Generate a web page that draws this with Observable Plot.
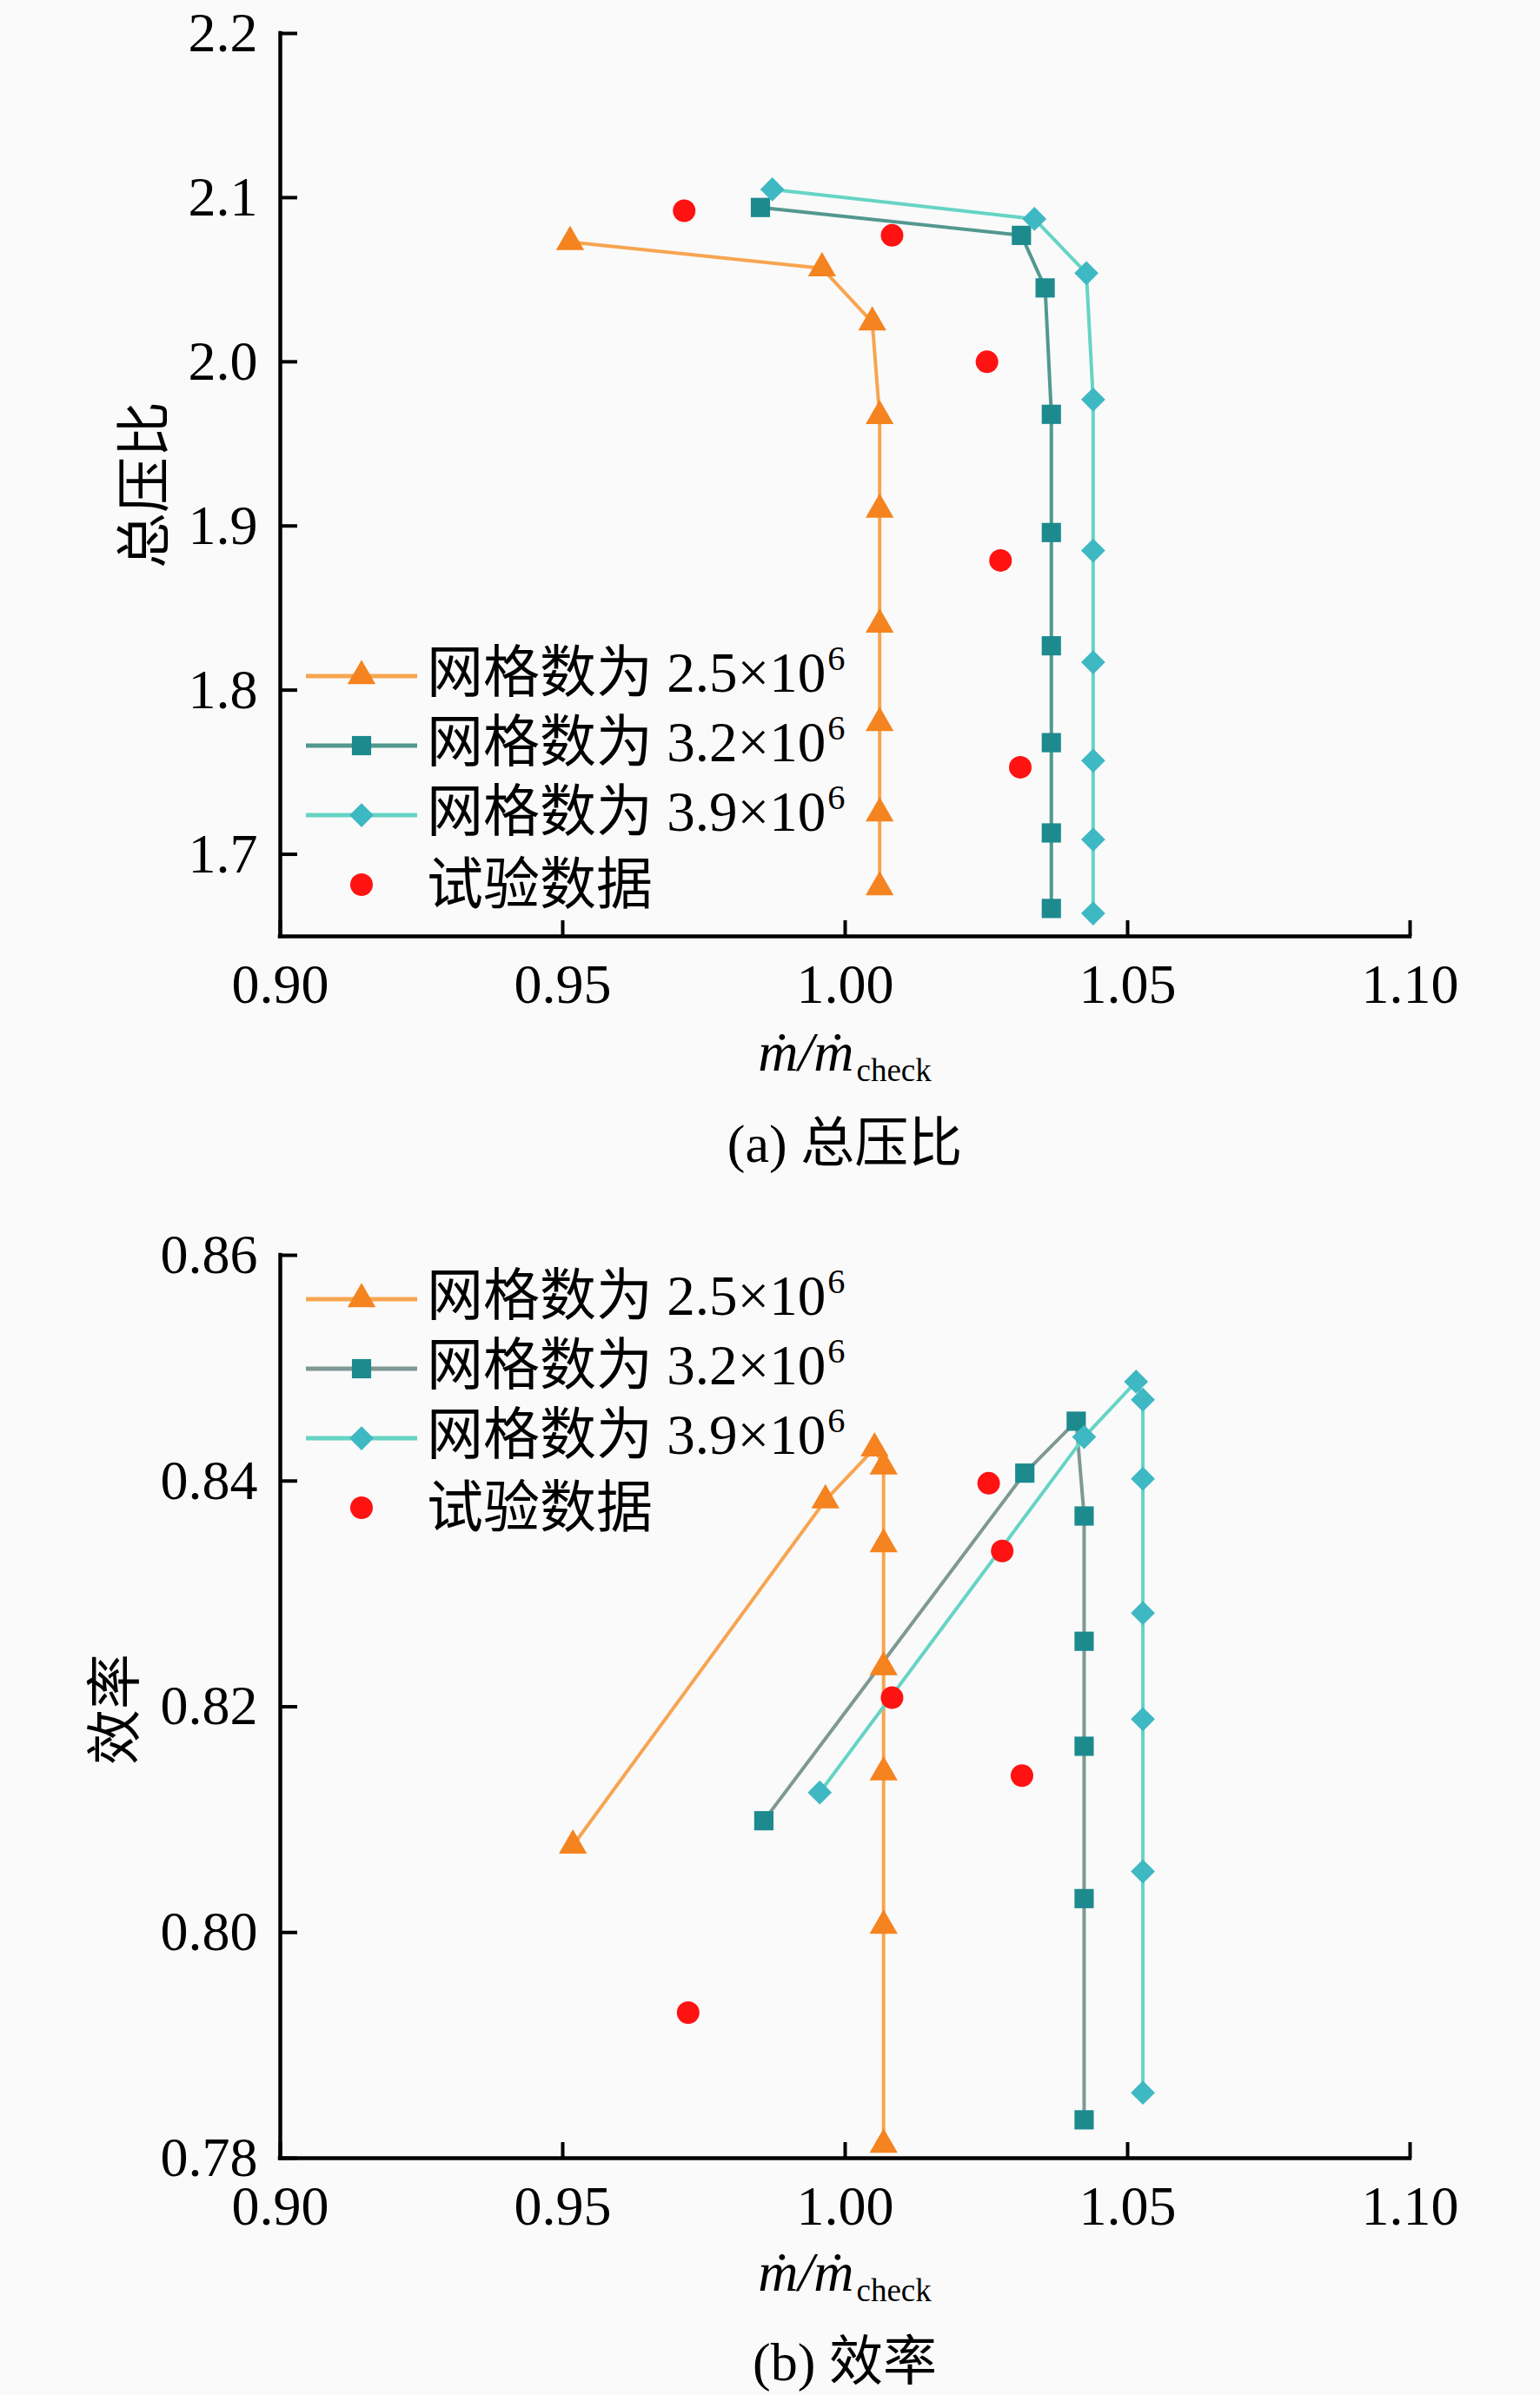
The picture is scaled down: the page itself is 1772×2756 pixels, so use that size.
<!DOCTYPE html>
<html>
<head>
<meta charset="utf-8">
<script src="https://cdn.jsdelivr.net/npm/d3@7"></script>
<script src="https://cdn.jsdelivr.net/npm/@observablehq/plot@0.6"></script>
<style>
  html, body { margin: 0; padding: 0; background: #fafafa; }
  .panel { position: relative; width: 1772px; height: 1378px; overflow: hidden; }
  .panel svg.plot { position: absolute; left: 0; top: 0; }
  .txt { position: absolute; font-family: "Liberation Serif", "Noto Sans CJK SC", serif; color: #000; white-space: nowrap; font-size: 64px; }
  .cjk { font-family: "Noto Sans CJK SC", sans-serif; }
  .legrow { position: absolute; height: 80px; display: flex; align-items: center; }
  .legrow svg { flex: none; }
  .legrow .lt { margin-left: 11px; font-family: "Liberation Serif", "Noto Sans CJK SC", serif; font-size: 65px; line-height: 72px; white-space: nowrap; }
  .legrow sup { font-size: 0.62em; vertical-align: 0; position: relative; top: -0.62em; margin-left: 2px; }
</style>
</head>
<body>
<div id="pa" class="panel"></div>
<div id="pb" class="panel"></div>
<script>
// ---------- axes ----------
const xDomain = [0.90, 1.10];
const xTicks = [0.90, 0.95, 1.00, 1.05, 1.10];
const prDomain = [1.65, 2.2];
const prTicks = [1.7, 1.8, 1.9, 2.0, 2.1, 2.2];
const effDomain = [0.78, 0.86];
const effTicks = [0.78, 0.80, 0.82, 0.84, 0.86];

// ---------- legend text ----------
const legendPrefix = "网格数为";
const gridCounts = ["2.5", "3.2", "3.9"];
const testLabel = "试验数据";
const xLabelMain = "ṁ/ṁ";
const xLabelSub = "check";
const prAxisLabel = "总压比";
const effAxisLabel = "效率";

// ---------- (a) total pressure ratio ----------
const pr25X = [0.9513, 0.9959, 1.0048, 1.0061, 1.0061, 1.0061, 1.0061, 1.0061, 1.0061];
const pr25Y = [2.073, 2.057, 2.024, 1.967, 1.910, 1.840, 1.780, 1.725, 1.680];
const pr32X = [0.9850, 1.0312, 1.0354, 1.0365, 1.0365, 1.0365, 1.0365, 1.0365, 1.0365];
const pr32Y = [2.094, 2.077, 2.045, 1.968, 1.896, 1.827, 1.768, 1.713, 1.667];
const pr39X = [0.9871, 1.0335, 1.0427, 1.0439, 1.0439, 1.0439, 1.0439, 1.0439, 1.0439];
const pr39Y = [2.105, 2.087, 2.054, 1.977, 1.885, 1.817, 1.757, 1.709, 1.664];
const prTestX = [0.9715, 1.0083, 1.0251, 1.0275, 1.0310];
const prTestY = [2.092, 2.077, 2.000, 1.879, 1.753];

// ---------- (b) efficiency ----------
const ef25X = [0.9518, 0.9965, 1.0052, 1.0068, 1.0068, 1.0068, 1.0068, 1.0068, 1.0068];
const ef25Y = [0.8077, 0.8383, 0.8429, 0.8413, 0.8344, 0.8235, 0.8142, 0.8006, 0.7812];
const ef32X = [0.9856, 1.0318, 1.0409, 1.0423, 1.0423, 1.0423, 1.0423, 1.0423];
const ef32Y = [0.8099, 0.8407, 0.8453, 0.8369, 0.8258, 0.8165, 0.8030, 0.7834];
const ef39X = [0.9955, 1.0423, 1.0515, 1.0527, 1.0527, 1.0527, 1.0527, 1.0527, 1.0527];
const ef39Y = [0.8124, 0.8439, 0.8488, 0.8472, 0.8402, 0.8283, 0.8189, 0.8054, 0.7858];
const efTestX = [1.0254, 1.0278, 1.0083, 1.0313, 0.9722];
const efTestY = [0.8398, 0.8338, 0.8208, 0.8139, 0.7929];

// ---------- styles ----------
const markerColors = ["#f5831f", "#1d8a8e", "#3eb8c3"];
const testColor = "#ff1212";
const symbolNames = ["triangle", "square", "diamond2"];
const d3Symbols = [d3.symbolTriangle, d3.symbolSquare, d3.symbolDiamond2];
const markerR = [12, 12.5, 12.5];
const testR = 13;

const zip = (xs, ys) => xs.map((x, i) => ({x, y: ys[i]}));

function legend(container, top, lineColors) {
  gridCounts.forEach((g, i) => {
    const row = document.createElement("div");
    row.className = "legrow";
    row.style.left = "352px";
    row.style.top = (top + i * 80 - 40) + "px";
    const svg = d3.create("svg").attr("width", 128).attr("height", 40);
    svg.append("line").attr("x1", 0).attr("x2", 128).attr("y1", 20).attr("y2", 20)
      .attr("stroke", lineColors[i]).attr("stroke-width", 5);
    svg.append("path").attr("transform", "translate(64,20)")
      .attr("d", d3.symbol(d3Symbols[i], Math.PI * markerR[i] * markerR[i])())
      .attr("fill", markerColors[i]);
    row.appendChild(svg.node());
    const t = document.createElement("span");
    t.className = "lt";
    t.innerHTML = `${legendPrefix} ${g}×10<sup>6</sup>`;
    row.appendChild(t);
    container.appendChild(row);
  });
  const row = document.createElement("div");
  row.className = "legrow";
  row.style.left = "352px";
  row.style.top = (top + 3 * 80 - 40) + "px";
  const svg = d3.create("svg").attr("width", 128).attr("height", 40);
  svg.append("circle").attr("cx", 64).attr("cy", 20).attr("r", testR).attr("fill", testColor);
  row.appendChild(svg.node());
  const t = document.createElement("span");
  t.className = "lt";
  t.textContent = testLabel;
  row.appendChild(t);
  container.appendChild(row);
}

function addText(container, html, cls, css) {
  const d = document.createElement("div");
  d.className = "txt " + (cls || "");
  d.innerHTML = html;
  Object.assign(d.style, css);
  container.appendChild(d);
  return d;
}

function panel(id, cfg) {
  const el = document.getElementById(id);
  const marks = [
    Plot.ruleX([xDomain[0]], {y1: cfg.yDomain[0], y2: cfg.yDomain[1], strokeWidth: 4.5, strokeLinecap: "square"}),
    Plot.ruleY([cfg.yDomain[0]], {x1: xDomain[0], x2: xDomain[1], strokeWidth: 4.5, strokeLinecap: "square"}),
    Plot.axisX({ticks: xTicks, tickFormat: d3.format(".2f"), tickSize: -18, tickPadding: 49, strokeWidth: 4, fontSize: 64, label: null}),
    Plot.axisY({ticks: cfg.yTicks, tickFormat: d3.format(cfg.yFmt), tickSize: -20, tickPadding: 46, strokeWidth: 4, fontSize: 64, label: null})
  ];
  cfg.series.forEach((s, i) => marks.push(Plot.line(s, {x: "x", y: "y", stroke: cfg.lineColors[i], strokeWidth: 4})));
  cfg.series.forEach((s, i) => marks.push(Plot.dot(s, {x: "x", y: "y", symbol: symbolNames[i], r: markerR[i], fill: markerColors[i], stroke: "none"})));
  marks.push(Plot.dot(cfg.test, {x: "x", y: "y", r: testR, fill: testColor, stroke: "none"}));

  const chart = Plot.plot({
    width: 1772,
    height: 1378,
    marginLeft: 322,
    marginRight: 150,
    marginTop: cfg.mt,
    marginBottom: cfg.mb,
    x: {domain: xDomain},
    y: {domain: cfg.yDomain},
    style: {fontFamily: "Liberation Serif", background: "transparent", color: "#000", overflow: "visible"},
    marks
  });
  chart.classList.add("plot");
  el.appendChild(chart);

  legend(el, cfg.legendTop, cfg.lineColors);

  // x label
  addText(el, `<i>${xLabelMain}</i><span style="font-size:37px;position:relative;top:12px;margin-left:3px">${xLabelSub}</span>`, "", {
    left: "972px", top: (cfg.xLabelBase - 54) + "px", lineHeight: "64px", transform: "translateX(-50%)"
  });
  // caption
  addText(el, cfg.caption, "", {
    left: "972px", top: (cfg.captionY - 32) + "px", lineHeight: "64px", transform: "translateX(-50%)", fontSize: "62px"
  });
  // y label
  addText(el, cfg.yLabel, "cjk", {
    left: cfg.yLabelX + "px", top: cfg.yLabelY + "px", lineHeight: "70px", fontSize: "64px",
    transform: "translate(-50%,-50%) rotate(-90deg)"
  });
}

panel("pa", {
  series: [zip(pr25X, pr25Y), zip(pr32X, pr32Y), zip(pr39X, pr39Y)],
  test: zip(prTestX, prTestY),
  yDomain: prDomain, yTicks: prTicks, yFmt: ".1f",
  mt: 38, mb: 1378 - 1077,
  lineColors: ["#f7a551", "#52988f", "#66d4c4"],
  legendTop: 778,
  xLabelBase: 1233,
  captionY: 1310,
  caption: "(a) <span class='cjk'>总压比</span>",
  yLabel: prAxisLabel, yLabelX: 160, yLabelY: 558
});

panel("pb", {
  series: [zip(ef25X, ef25Y), zip(ef32X, ef32Y), zip(ef39X, ef39Y)],
  test: zip(efTestX, efTestY),
  yDomain: effDomain, yTicks: effTicks, yFmt: ".2f",
  mt: 66, mb: 1378 - 1105,
  lineColors: ["#f7a551", "#7f9894", "#66d4c4"],
  legendTop: 117,
  xLabelBase: 1259,
  captionY: 1334,
  caption: "(b) <span class='cjk'>效率</span>",
  yLabel: effAxisLabel, yLabelX: 126, yLabelY: 589
});
</script>
</body>
</html>
